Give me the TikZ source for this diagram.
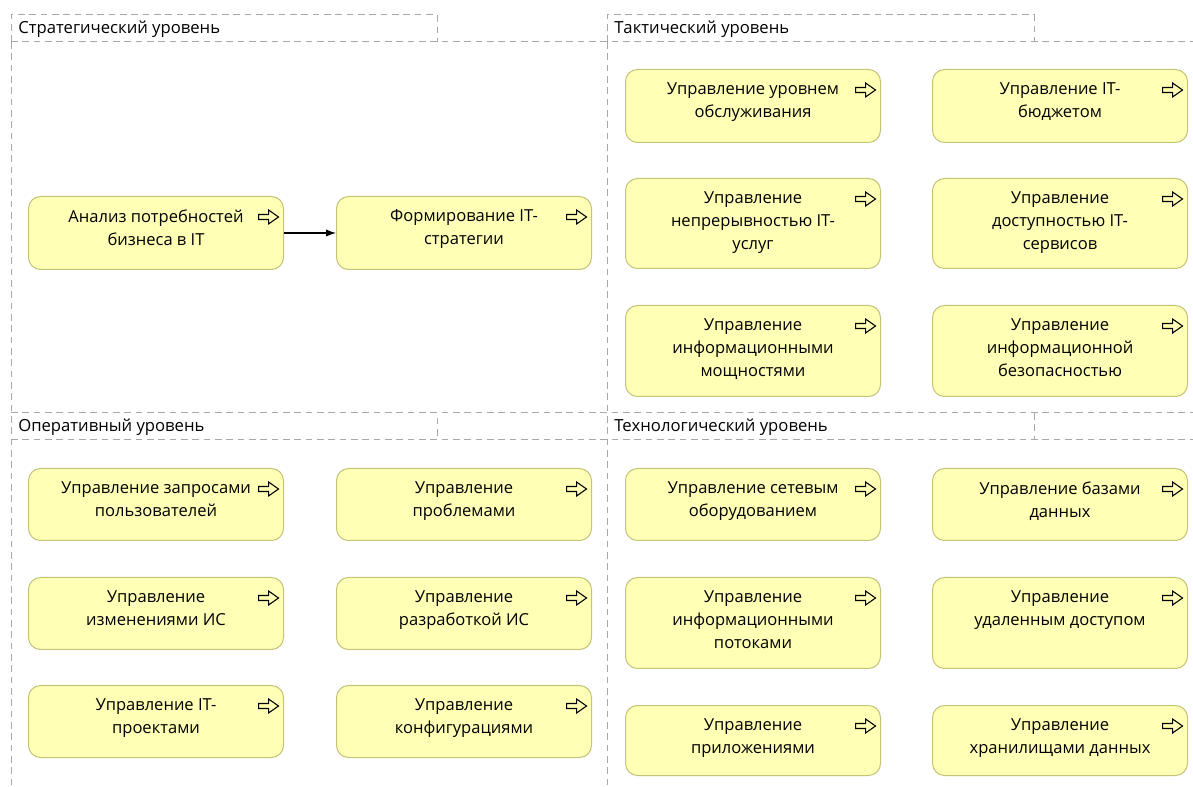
\documentclass[tikz,border=0pt]{standalone}
\usepackage{fontspec}
\setmainfont{Open Sans}
\usepackage{xcolor}
\usepackage{tikz}
\usetikzlibrary{arrows.meta}

\definecolor{procfill}{RGB}{255,255,181}
\definecolor{procline}{RGB}{196,196,120}
\definecolor{grpline}{RGB}{168,168,168}

\tikzset{
  grp/.style={draw=grpline, line width=0.75pt, dash pattern=on 5pt off 3.5pt},
  grplbl/.style={anchor=west, inner sep=0, font=\fontsize{12.5}{15}\selectfont},
  proc/.style={draw=procline, fill=procfill, line width=0.75pt, rounded corners=9pt,
    anchor=north west, minimum width=191.25pt, inner sep=0},
  proclbl/.style={anchor=north, inner sep=0, yshift=-10.2pt, align=center,
    font=\fontsize{12.4}{17.25}\selectfont},
  procarrow/.pic={
    \draw[line width=0.8pt, line join=miter]
      (-10,-2.5) -- (0,-2.5) -- (0,-7) -- (10,0) -- (0,7) -- (0,2.5) -- (-10,2.5) -- cycle;
  },
  flow/.style={-{Latex[length=7.5pt, width=5.5pt]}, line width=0.9pt}
}

\begin{document}
\begin{tikzpicture}[x=0.75pt, y=-0.75pt]
  \useasboundingbox (0,0) rectangle (1193,787);
  \clip (0,0) rectangle (1193,787);

  % group frames, each edge drawn once
  \draw[grp] (11,42) -- (11,15) -- (437,15) -- (437,42);
  \draw[grp] (607,42) -- (607,15) -- (1034,15) -- (1034,42);
  \draw[grp] (11,413) -- (437,413) -- (437,440);
  \draw[grp] (1034,413) -- (1034,440);
  \draw[grp] (11,42) -- (1200,42);
  \draw[grp] (11,413) -- (1200,413);
  \draw[grp] (11,440) -- (1200,440);
  \draw[grp] (11,42) -- (11,800);
  \draw[grp] (607,42) -- (607,800);
  \node[grplbl] (strat) at (18,29) {Стратегический уровень};
  \node[grplbl] (tact) at (614,29) {Тактический уровень};
  \node[grplbl] (oper) at (18,427) {Оперативный уровень};
  \node[grplbl] (tech) at (614,427) {Технологический уровень};

  % strategic
  \node[proc, minimum height=54.75pt, label={[proclbl]north:{Анализ потребностей\\бизнеса в IT}}] (anl) at (28,196) {};
  \node[proc, minimum height=54.75pt, label={[proclbl]north:{Формирование IT-\\стратегии}}] (form) at (336,196) {};

  % tactical
  \node[proc, minimum height=54.75pt, label={[proclbl]north:{Управление уровнем\\обслуживания}}] (slm) at (625,69) {};
  \node[proc, minimum height=54.75pt, label={[proclbl]north:{Управление IT-\\бюджетом}}] (budget) at (932,69) {};
  \node[proc, minimum height=67.5pt, label={[proclbl]north:{Управление\\непрерывностью IT-\\услуг}}] (cont) at (625,178) {};
  \node[proc, minimum height=67.5pt, label={[proclbl]north:{Управление\\доступностью IT-\\сервисов}}] (avail) at (932,178) {};
  \node[proc, minimum height=68.25pt, label={[proclbl]north:{Управление\\информационными\\мощностями}}] (capac) at (625,305) {};
  \node[proc, minimum height=68.25pt, label={[proclbl]north:{Управление\\информационной\\безопасностью}}] (secur) at (932,305) {};

  % operational
  \node[proc, minimum height=54pt, label={[proclbl]north:{Управление запросами\\пользователей}}] (req) at (28,468) {};
  \node[proc, minimum height=54pt, label={[proclbl]north:{Управление\\проблемами}}] (probl) at (336,468) {};
  \node[proc, minimum height=54pt, label={[proclbl]north:{Управление\\изменениями ИС}}] (chng) at (28,577) {};
  \node[proc, minimum height=54pt, label={[proclbl]north:{Управление\\разработкой ИС}}] (dev) at (336,577) {};
  \node[proc, minimum height=54pt, label={[proclbl]north:{Управление IT-\\проектами}}] (proj) at (28,685) {};
  \node[proc, minimum height=54pt, label={[proclbl]north:{Управление\\конфигурациями}}] (conf) at (336,685) {};

  % technological
  \node[proc, minimum height=54pt, label={[proclbl]north:{Управление сетевым\\оборудованием}}] (net) at (625,468) {};
  \node[proc, minimum height=54pt, label={[proclbl]north:{Управление базами\\данных}}] (db) at (932,468) {};
  \node[proc, minimum height=68.25pt, label={[proclbl]north:{Управление\\информационными\\потоками}}] (flows) at (625,577) {};
  \node[proc, minimum height=68.25pt, label={[proclbl]north:{Управление\\удаленным доступом}}] (remote) at (932,577) {};
  \node[proc, minimum height=52.5pt, label={[proclbl]north:{Управление\\приложениями}}] (apps) at (625,705) {};
  \node[proc, minimum height=52.5pt, label={[proclbl]north:{Управление\\хранилищами данных}}] (stor) at (932,705) {};

  \foreach \n in {anl, form, slm, budget, cont, avail, capac, secur, req, probl,
                  chng, dev, proj, conf, net, db, flows, remote, apps, stor}
    \pic at ([xshift=-11.6pt, yshift=-15.75pt]\n.north east) {procarrow};

  \draw[flow] (anl) -- (form);
\end{tikzpicture}
\end{document}
